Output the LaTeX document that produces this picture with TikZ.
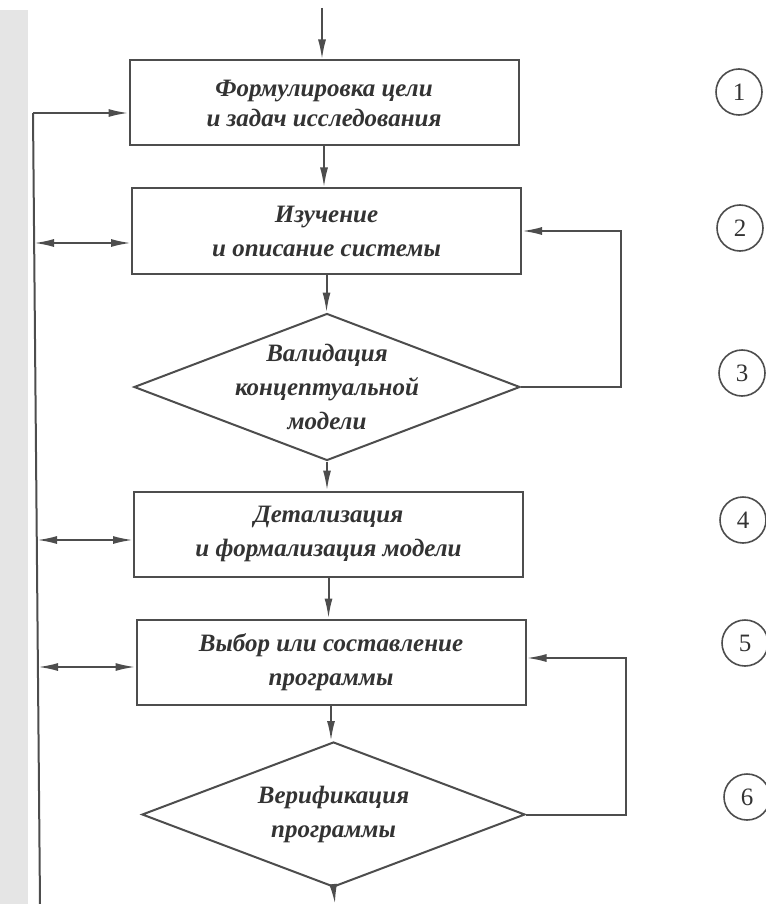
\documentclass[tikz,border=0pt]{standalone}
\usepackage{fontspec}
\setmainfont{Liberation Serif}
\usetikzlibrary{shapes.geometric,arrows.meta,calc}
\definecolor{ink}{HTML}{4D4D4D}
\definecolor{txt}{HTML}{333333}
\begin{document}
\begin{tikzpicture}[x=1pt,y=-1pt,
  labeltext/.style={inner sep=0pt, align=center, text=txt, font=\fontsize{25}{34}\selectfont\itshape\bfseries},
  stepbox/.style={labeltext, draw=ink, line width=2pt, rectangle, minimum width=389pt, minimum height=85pt},
  decision/.style={draw=ink, line width=2pt, diamond, inner sep=0pt, minimum width=386pt, minimum height=147pt},
  num/.style={draw=ink, line width=1.6pt, circle, minimum size=46pt, inner sep=0pt, text=txt,
    font=\fontsize{25}{25}\selectfont},
  arr/.style={draw=ink, line width=2pt, -{Latex[length=20pt,width=8pt]}},
  dbl/.style={draw=ink, line width=2pt, {Latex[length=20pt,width=8pt]}-{Latex[length=20pt,width=8pt]}},
  wire/.style={draw=ink, line width=2pt}
]
\useasboundingbox (0,0) rectangle (765,904);
\fill[black!10] (0,10) rectangle (28,904);

% steps
\node[stepbox, font=\fontsize{25}{30}\selectfont\itshape\bfseries] (b1) at (324,103) {Формулировка цели\\и задач исследования};
\node[stepbox] (b2) at (326.5,231) {Изучение\\и описание системы};
\node[decision] (d3) at (327,387) {};
\node[labeltext] (t3) at (d3.center) {Валидация\\концептуальной\\модели};
\node[stepbox] (b4) at (328.5,534) {Детализация\\и формализация модели};
\node[stepbox] (b5) at (331,662) {Выбор или составление\\программы};
\node[decision, minimum width=383pt, minimum height=145pt] (d6) at (333.5,814.5) {};
\node[labeltext] (t6) at (d6.center) {Верификация\\программы};

% numbers
\node[num] (c1) at (739,92) {1};
\node[num] (c2) at (740,228) {2};
\node[num] (c3) at (742,373) {3};
\node[num] (c4) at (743,520) {4};
\node[num] (c5) at (745,643) {5};
\node[num] (c6) at (747,797) {6};

% main flow
\coordinate (in) at (322,8);
\coordinate (out) at (335,904);
\draw[arr] (in) -- (in |- b1.north);
\draw[arr] (b1.south) -- (b1.south |- b2.north);
\draw[arr] (b2.south) -- (b2.south |- d3.north);
\draw[arr] (d3.south) -- (d3.south |- b4.north);
\draw[arr] (b4.south) -- (b4.south |- b5.north);
\draw[arr] (b5.south) -- (b5.south |- d6.north);
\draw[arr] (d6.south) -- (out);

% feedback loops
\draw[arr] (d3.east) -- ++(100,0) |- (b2.east);
\draw[arr] (d6.east) -- ++(100,0) |- ([yshift=4pt]b5.east);

% left return line
\coordinate (Ltop) at (33,113);
\coordinate (Lbot) at (40,904);
\coordinate (L2) at (34,243);
\coordinate (L4) at (37,540);
\coordinate (L5) at (38,667);
\draw[wire] (Lbot) -- (Ltop);
\draw[arr] (Ltop) -- (Ltop -| b1.west);
\draw[dbl] (L2) -- (L2 -| b2.west);
\draw[dbl] (L4) -- (L4 -| b4.west);
\draw[dbl] (L5) -- (L5 -| b5.west);
\end{tikzpicture}
\end{document}
